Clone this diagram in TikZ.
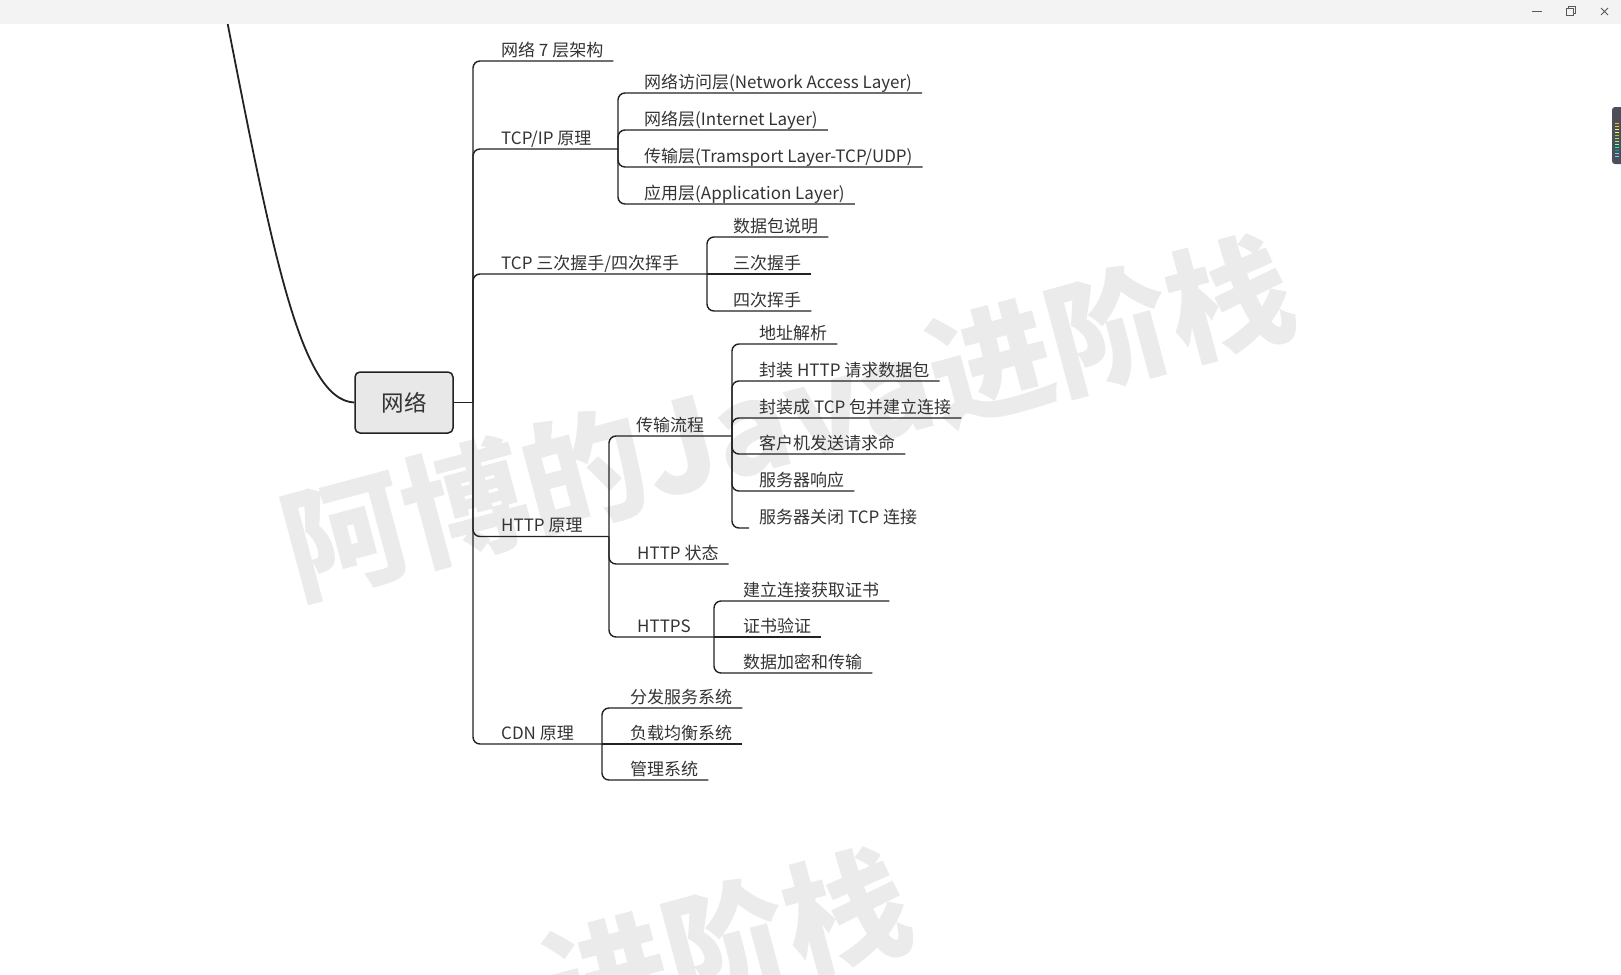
\documentclass[tikz,border=0pt]{standalone}
\usepackage{fontspec}
\setmainfont{Noto Sans CJK SC}
\usetikzlibrary{positioning}

\definecolor{ink}{HTML}{333333}
\definecolor{wire}{HTML}{222222}
\definecolor{barbg}{HTML}{F3F3F3}
\definecolor{rootbg}{HTML}{E8E8E8}
\definecolor{wmgray}{HTML}{EBEBEB}
\definecolor{dockbg}{HTML}{4B4F5C}

\begin{document}
\begin{tikzpicture}[x=1pt, y=-1pt, every node/.style={font=\fontsize{17}{20}\selectfont, text=ink},
    topic/.style={anchor=south west, inner xsep=10pt, inner ysep=3pt, text height=0.85em, text depth=0.15em},
    rootbox/.style={draw=wire, line width=1.5pt, fill=rootbg, rounded corners=5pt, minimum width=98pt,
        minimum height=61pt, font=\fontsize{22.5}{24}\selectfont},
    link/.style={draw=wire, line width=1.4pt, rounded corners=7pt},
    wmark/.style={rotate=15, text=wmgray, font=\fontsize{124}{124}\selectfont\bfseries}]
    \useasboundingbox (0,0) rectangle (1621,974);
    \clip (0,0) rectangle (1621,974);

    \node[wmark] (wm1) at (787,416) {阿博的Java进阶栈};
    \node[wmark] (wm2) at (404,1029) {阿博的Java进阶栈};

    \node[rootbox] (net) at (404,402.5) {网络};
    \coordinate (up) at (223,0);
    \draw[wire, line width=1.8pt] (up) .. controls (272,250) and (300,400) .. (net.west);

    \coordinate (j0) at (473,402.5);
    \draw[wire, line width=1pt] (net.east) -- (j0);

    \node[topic] (l7) at (491,61) {网络 7 层架构};
    \draw[link] (j0) |- (l7.south east);

    \node[topic] (tcpip) at (491,149) {TCP/IP 原理};
    \coordinate (j1) at (618,149);
    \draw[link] (j0) |- (j1);
    \foreach \n/\y/\t in {nal/93/{网络访问层(Network Access Layer)}, il/130/{网络层(Internet Layer)},
        tl/167/{传输层(Tramsport Layer-TCP/UDP)}, al/204/{应用层(Application Layer)}} {
        \node[topic] (\n) at (634,\y) {\t};
        \draw[link] (j1) |- (\n.south east);
    }

    \node[topic] (shake) at (491,274) {TCP 三次握手/四次挥手};
    \coordinate (j2) at (707,274);
    \draw[link] (j0) |- (j2);
    \node[topic] (pkt) at (723,237) {数据包说明};
    \node[topic] (syn) at (723,274) {三次握手};
    \node[topic] (fin) at (723,311) {四次挥手};
    \draw[link] (j2) |- (pkt.south east);
    \draw[link] (j2) -- (syn.south east);
    \draw[link] (j2) |- (fin.south east);

    \node[topic] (http) at (491,536.5) {HTTP 原理};
    \coordinate (j3) at (609,536.5);
    \draw[link] (j0) |- (j3);

    \node[topic] (flow) at (626,436) {传输流程};
    \coordinate (j4) at (732,436);
    \draw[link] (j3) |- (j4);
    \foreach \n/\y/\t in {dns/344/地址解析, pack/381/{封装 HTTP 请求数据包}, tcpc/418/{封装成 TCP 包并建立连接},
        send/454/客户机发送请求命, resp/491/服务器响应} {
        \node[topic] (\n) at (749,\y) {\t};
        \draw[link] (j4) |- (\n.south east);
    }
    \node[topic] (close) at (749,528) {服务器关闭 TCP 连接};
    \draw[link] (j4) |- (close.south west);

    \node[topic] (state) at (627,564) {HTTP 状态};
    \draw[link] (j3) |- (state.south east);

    \node[topic] (https) at (627,637) {HTTPS};
    \coordinate (j5) at (714,637);
    \draw[link] (j3) |- (j5);
    \node[topic] (cert) at (733,601) {建立连接获取证书};
    \node[topic] (check) at (733,637) {证书验证};
    \node[topic] (enc) at (733,673) {数据加密和传输};
    \draw[link] (j5) |- (cert.south east);
    \draw[link] (j5) -- (check.south east);
    \draw[link] (j5) |- (enc.south east);

    \node[topic] (cdn) at (491,744) {CDN 原理};
    \coordinate (j6) at (602,744);
    \draw[link] (j0) |- (j6);
    \node[topic] (dist) at (620,708) {分发服务系统};
    \node[topic] (lb) at (620,744) {负载均衡系统};
    \node[topic] (mgmt) at (620,780) {管理系统};
    \draw[link] (j6) |- (dist.south east);
    \draw[link] (j6) -- (lb.south east);
    \draw[link] (j6) |- (mgmt.south east);

    \fill[barbg] (0,0) rectangle (1621,24);
    \draw[black!65, line width=1pt] (1532,11.5) -- (1542,11.5);
    \draw[black!65, line width=1pt] (1566,9) rectangle (1573,16) (1568,9) -- (1568,7) -- (1575,7) -- (1575,14) -- (1573,14);
    \draw[black!65, line width=1pt] (1601,8) -- (1608,15) (1601,15) -- (1608,8);

    \fill[dockbg, rounded corners=3pt] (1612,107) rectangle (1630,164);
    \foreach \i/\c in {0/black!70, 1/black!70, 2/black!70, 3/orange!70, 4/yellow!70!orange, 5/yellow!70,
        6/yellow!70, 7/yellow!60!green, 8/green!40!yellow, 9/green!45, 10/green!45, 11/green!40!cyan,
        12/cyan!50!green, 13/cyan!55, 14/cyan!55}
        \draw[line width=1pt, color=\c] (1615,114+3*\i) -- (1619,114+3*\i);
\end{tikzpicture}
\end{document}
